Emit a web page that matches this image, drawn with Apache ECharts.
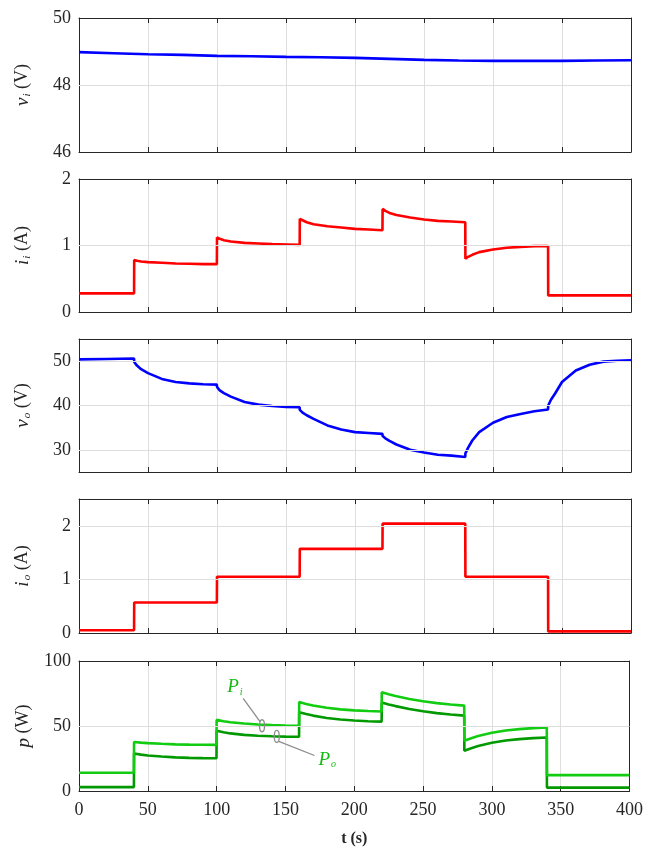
<!DOCTYPE html>
<html>
<head>
<meta charset="utf-8">
<script src="https://cdn.jsdelivr.net/npm/echarts@6/dist/echarts.min.js"></script>
<style>html,body{margin:0;padding:0;background:#fff}#c{width:646px;height:848px}</style>
</head>
<body>
<div id="c"></div>
<script>
// ---- data ----
const xTicks = [0, 50, 100, 150, 200, 250, 300, 350, 400];

const viT = [0, 25, 50, 75, 100, 125, 150, 175, 200, 225, 250, 275, 300, 325, 350, 375, 400];
const viV = [48.98, 48.95, 48.92, 48.9, 48.87, 48.86, 48.84, 48.83, 48.81, 48.78, 48.75, 48.73, 48.72, 48.72, 48.72, 48.73, 48.74];

const iiT = [0, 39.9,
  40, 42, 45, 50, 60, 70, 80, 90, 99.9,
  100, 102, 105, 110, 120, 130, 140, 150, 159.9,
  160, 162, 165, 170, 180, 190, 200, 210, 219.9,
  220, 222, 225, 230, 240, 250, 260, 270, 279.9,
  280, 282, 285, 290, 300, 310, 320, 330, 339.9,
  340, 350, 370, 400];
const iiV = [0.28, 0.28,
  0.78, 0.77, 0.76, 0.75, 0.74, 0.73, 0.725, 0.72, 0.72,
  1.12, 1.10, 1.08, 1.06, 1.04, 1.03, 1.02, 1.015, 1.01,
  1.40, 1.38, 1.35, 1.32, 1.29, 1.27, 1.25, 1.24, 1.23,
  1.55, 1.52, 1.49, 1.46, 1.42, 1.39, 1.37, 1.36, 1.35,
  0.80, 0.83, 0.86, 0.90, 0.94, 0.965, 0.98, 0.99, 0.99,
  0.25, 0.25, 0.25, 0.25];

const voT = [0, 20, 39.9,
  40, 42, 45, 50, 60, 70, 80, 90, 99.9,
  100, 102, 105, 110, 120, 130, 140, 150, 159.9,
  160, 162, 165, 170, 180, 190, 200, 210, 219.9,
  220, 222, 225, 230, 240, 250, 260, 270, 279.9,
  280, 282, 285, 290, 300, 310, 320, 330, 339.9,
  340, 342, 345, 350, 360, 370, 380, 390, 400];
const voV = [50.4, 50.5, 50.6,
  49.8, 49.0, 48.2, 47.3, 46.0, 45.3, 45.0, 44.8, 44.7,
  44.2, 43.4, 42.8, 42.0, 40.8, 40.2, 39.9, 39.7, 39.6,
  39.0, 38.4, 37.8, 37.0, 35.5, 34.6, 34.0, 33.8, 33.6,
  33.1, 32.6, 32.0, 31.2, 30.0, 29.4, 28.9, 28.7, 28.4,
  29.2, 30.5, 32.1, 34.0, 36.1, 37.4, 38.1, 38.7, 39.1,
  40.0, 41.3, 42.7, 45.3, 47.9, 49.2, 49.9, 50.1, 50.2];

const ioT = [0, 39.9, 40, 99.9, 100, 159.9, 160, 219.9, 220, 279.9, 280, 339.9, 340, 400];
const ioV = [0.05, 0.05, 0.57, 0.57, 1.05, 1.05, 1.57, 1.57, 2.04, 2.04, 1.05, 1.05, 0.03, 0.03];

const pT = [0, 39.9,
  40, 45, 50, 60, 70, 80, 90, 99.9,
  100, 105, 110, 120, 130, 140, 150, 159.9,
  160, 165, 170, 180, 190, 200, 210, 219.9,
  220, 225, 230, 240, 250, 260, 270, 279.9,
  280, 285, 290, 300, 310, 320, 330, 339.9,
  340, 400];
const piV = [14, 14,
  37.7, 37.2, 36.8, 36.3, 35.9, 35.7, 35.6, 35.5,
  54.7, 53.7, 52.9, 51.9, 51.2, 50.7, 50.4, 50.2,
  68.5, 67.0, 65.8, 64.0, 62.8, 62.0, 61.5, 61.1,
  75.9, 74.4, 73.0, 70.8, 69.0, 67.6, 66.5, 65.7,
  38.7, 40.6, 42.3, 44.8, 46.5, 47.6, 48.4, 48.9,
  12.2, 12.2];
const poV = [3, 3,
  28.8, 28.0, 27.3, 26.5, 25.9, 25.5, 25.3, 25.2,
  46.3, 45.2, 44.3, 43.2, 42.5, 42.1, 41.8, 41.7,
  60.6, 59.2, 58.0, 56.2, 55.0, 54.2, 53.7, 53.4,
  68.0, 66.6, 65.3, 63.1, 61.3, 59.9, 58.8, 58.0,
  31.0, 32.9, 34.6, 37.1, 38.8, 39.9, 40.7, 41.2,
  2.6, 2.6];

// y-axis ranges and tick labels
const yMin = [46, 0, 25, 0, 0];
const yMax = [50, 2, 55, 2.5, 100];
const yTicks = [[46, 48, 50], [0, 1, 2], [30, 40, 50], [0, 1, 2], [0, 50, 100]];
const yNames = [['v', 'i', 'V'], ['i', 'i', 'A'], ['v', 'o', 'V'], ['i', 'o', 'A'], ['p', '', 'W']];

// ---- layout ----
const FONT = 'Liberation Serif';
const TXT = '#262626';
const AX = '#262626';
const GRIDC = '#dedede';
const tops = [18, 179, 339, 499, 661];
const heights = [134, 133, 133, 134, 131];
const zip = (t, v) => t.map((x, i) => [x, v[i]]);

const grid = [], xAxis = [], yAxis = [], series = [];
for (let i = 0; i < 5; i++) {
  grid.push({ left: 79, right: 15, top: tops[i], height: heights[i] });
  xAxis.push({
    type: 'value', gridIndex: i, min: 0, max: 400, interval: 50,
    axisLine: { show: true, onZero: false, lineStyle: { color: AX, width: 1 } },
    axisTick: { show: true, inside: true, length: 5, lineStyle: { color: AX } },
    axisLabel: { show: i === 4, color: TXT, fontFamily: FONT, fontSize: 18, margin: 10 },
    splitLine: { show: true, lineStyle: { color: GRIDC, width: 1 } },
    name: i === 4 ? 't (s)' : '', nameLocation: 'middle', nameGap: 40,
    nameTextStyle: { color: TXT, fontFamily: FONT, fontSize: 16, fontWeight: 'bold' }
  });
  xAxis.push({
    type: 'value', gridIndex: i, min: 0, max: 400, interval: 50, position: 'top',
    axisLine: { show: true, onZero: false, lineStyle: { color: AX, width: 1 } },
    axisTick: { show: true, inside: true, length: 5, lineStyle: { color: AX } },
    axisLabel: { show: false }, splitLine: { show: false }
  });
  const nm = yNames[i];
  const yTickCfg = { show: true, inside: true, length: 5, lineStyle: { color: AX }, customValues: yTicks[i] };
  yAxis.push({
    type: 'value', gridIndex: i, min: yMin[i], max: yMax[i],
    axisLine: { show: true, onZero: false, lineStyle: { color: AX, width: 1 } },
    axisTick: yTickCfg,
    axisLabel: { color: TXT, fontFamily: FONT, fontSize: 18, margin: 8, customValues: yTicks[i] },
    splitLine: { show: false },
    name: '{it|' + nm[0] + '}' + (nm[1] ? '{sub|' + nm[1] + '}' : '') + '{n| (' + nm[2] + ')}',
    nameLocation: 'middle', nameRotate: 90, nameGap: 46,
    nameTextStyle: {
      color: TXT, fontFamily: FONT, fontSize: 17,
      rich: {
        it: { fontFamily: FONT, fontStyle: 'italic', fontSize: 19, color: TXT },
        sub: { fontFamily: FONT, fontStyle: 'italic', fontSize: 11, color: TXT, padding: [10, 0, 0, 1] },
        n: { fontFamily: FONT, fontSize: 18, color: TXT }
      }
    }
  });
  yAxis.push({
    type: 'value', gridIndex: i, min: yMin[i], max: yMax[i], position: 'right',
    axisLine: { show: true, onZero: false, lineStyle: { color: AX, width: 1 } },
    axisTick: yTickCfg,
    axisLabel: { show: false }, splitLine: { show: false }
  });
}

// horizontal grid lines on the y tick values, drawn beneath the data lines
for (let i = 0; i < 5; i++) {
  series.push({
    type: 'line', xAxisIndex: 2 * i, yAxisIndex: 2 * i, data: [], z: 1, silent: true,
    markLine: {
      silent: true, symbol: 'none', label: { show: false }, animation: false,
      lineStyle: { color: GRIDC, width: 1, type: 'solid' },
      data: yTicks[i].filter(v => v !== yMin[i] && v !== yMax[i]).map(v => ({ yAxis: v }))
    }
  });
}

const lineSeries = (i, data, color, z) => ({
  type: 'line', xAxisIndex: 2 * i, yAxisIndex: 2 * i, data: data,
  showSymbol: false, symbol: 'none', smooth: false, animation: false, z: z || 3,
  lineStyle: { color: color, width: 2.6 }, itemStyle: { color: color }
});

series.push(lineSeries(0, zip(viT, viV), '#0000ff'));
series.push(lineSeries(1, zip(iiT, iiV), '#ff0000'));
series.push(lineSeries(2, zip(voT, voV), '#0000ff'));
series.push(lineSeries(3, zip(ioT, ioV), '#ff0000'));
series.push(lineSeries(4, zip(pT, piV), '#11cc11', 4));
series.push(lineSeries(4, zip(pT, poV), '#009900', 3));

const chart = echarts.init(document.getElementById('c'), null, { renderer: 'canvas' });
chart.setOption({ animation: false, backgroundColor: '#fff', grid, xAxis, yAxis, series });

// annotations for P_i and P_o
const px = (x, y) => chart.convertToPixel({ gridIndex: 4 }, [x, y]);
const ePi = px(133, 50.2), ePo = px(143.7, 42);
const tPi = px(112, 79), tPo = px(174, 25);
const GRAY = '#8c8c8c';
const richP = {
  p: { fontFamily: FONT, fontStyle: 'italic', fontSize: 19, fill: '#11bb11' },
  s: { fontFamily: FONT, fontStyle: 'italic', fontSize: 10, fill: '#11bb11', padding: [10, 0, 0, 1] }
};
chart.setOption({
  graphic: [
    { type: 'ellipse', shape: { cx: ePi[0], cy: ePi[1], rx: 2.5, ry: 6 }, style: { fill: null, stroke: GRAY, lineWidth: 1.3 }, z: 100 },
    { type: 'ellipse', shape: { cx: ePo[0], cy: ePo[1], rx: 2.5, ry: 6 }, style: { fill: null, stroke: GRAY, lineWidth: 1.3 }, z: 100 },
    { type: 'line', shape: { x1: tPi[0] + 10, y1: tPi[1] + 10, x2: ePi[0] - 2, y2: ePi[1] - 4 }, style: { stroke: GRAY, lineWidth: 1.3 }, z: 100 },
    { type: 'line', shape: { x1: ePo[0] + 2, y1: ePo[1] + 5, x2: tPo[0] - 4, y2: tPo[1] - 3 }, style: { stroke: GRAY, lineWidth: 1.3 }, z: 100 },
    { type: 'text', x: tPi[0] - 6, y: tPi[1] - 11, style: { text: '{p|P}{s|i}', rich: richP }, z: 100 },
    { type: 'text', x: tPo[0], y: tPo[1] - 9, style: { text: '{p|P}{s|o}', rich: richP }, z: 100 }
  ]
});
</script>
</body>
</html>
